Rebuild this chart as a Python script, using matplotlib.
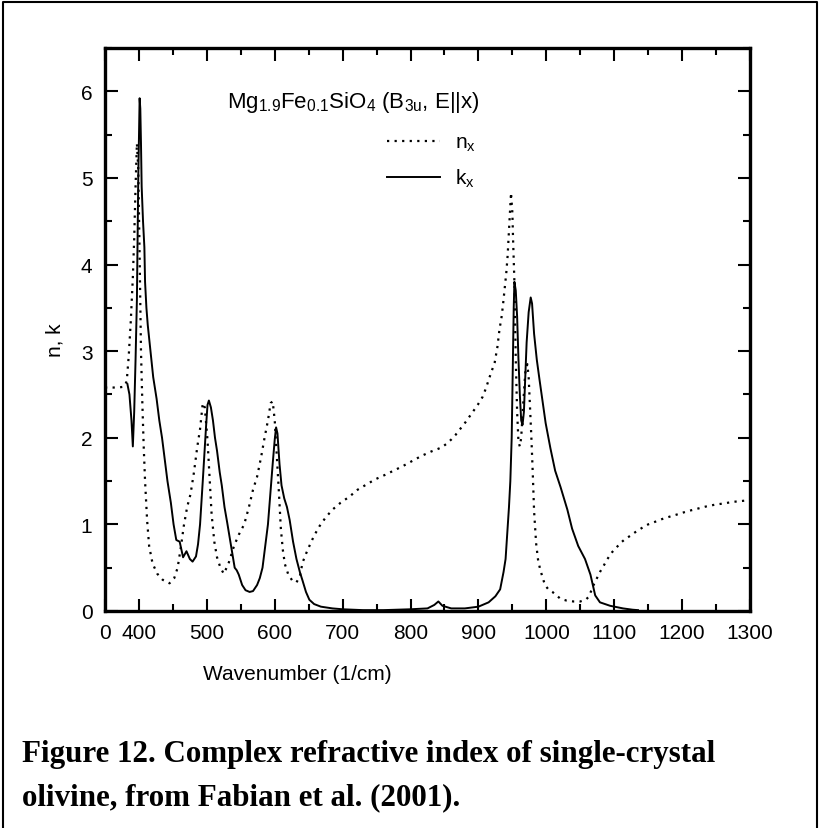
import matplotlib
matplotlib.use("Agg")
import matplotlib.pyplot as plt
from matplotlib.lines import Line2D
from matplotlib.ticker import MultipleLocator

# refractive index n_x (dotted)
n_wn = [350, 360, 370, 378, 382, 385, 388, 391, 393, 395, 397, 399, 401, 403,
        405, 407, 409, 412, 415, 420, 427, 435, 445, 452, 457, 462, 466, 471,
        476, 481, 486, 490, 494, 497, 501, 504, 507, 511, 515, 520, 525, 532,
        540, 547, 555, 562, 568, 574, 580, 585, 590, 594, 597, 600, 603, 606,
        609, 612, 615, 620, 626, 632, 637, 641, 646, 651, 658, 666, 675, 685,
        697, 710, 722, 735, 748, 762, 775, 788, 802, 816, 830, 840, 846, 853,
        860, 866, 872, 881, 891, 899, 906, 911, 916, 920, 924, 928, 931, 934,
        936, 938, 941, 943, 945, 947, 948, 950, 951, 953, 955, 957, 959, 961,
        963, 966, 969, 972, 974, 976, 978, 980, 982, 985, 988, 991, 994, 998,
        1003, 1009, 1015, 1021, 1030, 1040, 1050, 1058, 1062, 1066, 1069, 1074,
        1079, 1085, 1090, 1097, 1104, 1110, 1116, 1124, 1131, 1137, 1143, 1150,
        1157, 1170, 1182, 1195, 1207, 1222, 1237, 1250, 1260, 1275, 1288, 1300]
n_val = [2.58, 2.58, 2.58, 2.59, 2.65, 2.95, 3.35, 3.85, 4.3, 4.9, 5.4, 5.1,
         4.1, 3.0, 2.4, 1.9, 1.5, 1.05, 0.75, 0.55, 0.43, 0.36, 0.32, 0.38,
         0.5, 0.75, 0.98, 1.2, 1.35, 1.6, 1.9, 2.1, 2.4, 2.35, 1.97, 1.55, 1.12,
         0.8, 0.62, 0.5, 0.43, 0.55, 0.75, 0.88, 1.0, 1.2, 1.4, 1.55, 1.78, 2.0,
         2.2, 2.4, 2.42, 2.2, 1.8, 1.39, 0.95, 0.7, 0.54, 0.42, 0.35, 0.33, 0.4,
         0.56, 0.66, 0.75, 0.87, 0.98, 1.08, 1.17, 1.25, 1.32, 1.4, 1.46, 1.52,
         1.57, 1.62, 1.67, 1.73, 1.79, 1.84, 1.87, 1.89, 1.93, 1.98, 2.03, 2.09,
         2.18, 2.29, 2.38, 2.47, 2.57, 2.69, 2.78, 2.87, 3.05, 3.25, 3.39, 3.52,
         3.67, 3.9, 4.1, 4.4, 4.7, 4.83, 4.6, 4.3, 3.8, 2.9, 2.3, 1.95, 1.9,
         2.0, 2.4, 2.75, 2.85, 2.7, 2.35, 2.0, 1.6, 1.15, 0.78, 0.58, 0.48, 0.4,
         0.3, 0.25, 0.22, 0.18, 0.14, 0.12, 0.11, 0.11, 0.13, 0.16, 0.23, 0.29,
         0.37, 0.45, 0.53, 0.6, 0.68, 0.74, 0.79, 0.83, 0.87, 0.91, 0.94, 0.97,
         1.0, 1.02, 1.06, 1.09, 1.12, 1.15, 1.18, 1.21, 1.23, 1.24, 1.26, 1.27,
         1.28]

# extinction coefficient k_x (solid)
k_wn = [383, 386, 389, 391, 393, 395, 397, 398, 399, 400, 401, 402, 403, 404,
        406, 408, 409, 411, 413, 417, 421, 426, 430, 434, 438, 442, 447, 451,
        455, 460, 465, 470, 475, 479, 484, 487, 490, 494, 497, 499, 501, 503,
        506, 509, 512, 515, 519, 522, 526, 530, 534, 537, 541, 544, 547, 552,
        557, 563, 568, 574, 578, 582, 586, 590, 594, 597, 600, 602, 604, 607,
        610, 614, 618, 622, 627, 632, 637, 641, 646, 651, 658, 668, 685, 700,
        730, 760, 800, 825, 835, 841, 847, 860, 880, 900, 915, 925, 932, 937,
        940, 943, 945, 947, 949, 950, 951, 952, 953, 955, 957, 959, 961, 963,
        965, 967, 969, 971, 974, 977, 979, 982, 986, 990, 994, 999, 1006, 1013,
        1021, 1031, 1038, 1047, 1057, 1065, 1072, 1079, 1094, 1113, 1127, 1135]
k_val = [2.62, 2.5, 2.2, 1.9, 2.3, 2.9, 3.6, 4.3, 5.0, 5.5, 5.92, 5.8, 5.4,
         4.9, 4.5, 4.2, 3.8, 3.5, 3.3, 3.0, 2.7, 2.45, 2.2, 2.0, 1.75, 1.5,
         1.25, 1.0, 0.82, 0.8, 0.62, 0.69, 0.6, 0.57, 0.63, 0.77, 1.0, 1.5, 1.9,
         2.15, 2.38, 2.43, 2.35, 2.2, 2.0, 1.85, 1.6, 1.45, 1.2, 1.02, 0.83,
         0.68, 0.5, 0.47, 0.42, 0.3, 0.24, 0.22, 0.23, 0.3, 0.38, 0.5, 0.75,
         1.0, 1.4, 1.7, 1.98, 2.12, 2.05, 1.7, 1.45, 1.3, 1.2, 1.05, 0.8, 0.6,
         0.45, 0.35, 0.22, 0.13, 0.08, 0.05, 0.03, 0.02, 0.01, 0.01, 0.02, 0.03,
         0.07, 0.11, 0.06, 0.03, 0.03, 0.05, 0.1, 0.17, 0.25, 0.45, 0.6, 0.95,
         1.2, 1.5, 2.0, 2.5, 3.0, 3.5, 3.8, 3.7, 3.4, 2.9, 2.5, 2.2, 2.15, 2.3,
         2.7, 3.1, 3.45, 3.62, 3.55, 3.2, 2.9, 2.67, 2.45, 2.17, 1.88, 1.62,
         1.43, 1.17, 0.95, 0.75, 0.6, 0.42, 0.18, 0.1, 0.06, 0.03, 0.015, 0.01]

x_ticks = [350, 400, 500, 600, 700, 800, 900, 1000, 1100, 1200, 1300]
x_ticklabels = ["0", "400", "500", "600", "700", "800", "900", "1000",
                "1100", "1200", "1300"]
y_ticks = [0, 1, 2, 3, 4, 5, 6]

title = r"Mg$_{\mathrm{1.9}}$Fe$_{\mathrm{0.1}}$SiO$_{\mathrm{4}}$ (B$_{\mathrm{3u}}$, E||x)"
caption = ["Figure 12. Complex refractive index of single-crystal",
           "olivine, from Fabian et al. (2001)."]

plt.rcParams["font.family"] = ["Liberation Sans", "DejaVu Sans"]
plt.rcParams["mathtext.fontset"] = "custom"
plt.rcParams["mathtext.rm"] = "Liberation Sans"
plt.rcParams["mathtext.it"] = "Liberation Sans:italic"

W, H = 820, 829
fig = plt.figure(figsize=(W / 100, H / 100), dpi=100)
ax = fig.add_axes([105 / W, 1 - 612 / H, 645 / W, 563 / H])

ax.plot(n_wn, n_val, color="black", lw=1.6, ls=(0, (1, 2.4)),
        label=r"n$_{\mathrm{x}}$")
ax.plot(k_wn, k_val, color="black", lw=1.4, ls="-", label=r"k$_{\mathrm{x}}$")

ax.set_xlim(350, 1300)
ax.set_ylim(0, 6.5)
ax.set_xticks(x_ticks)
ax.set_xticklabels(x_ticklabels)
ax.set_yticks(y_ticks)
ax.xaxis.set_minor_locator(MultipleLocator(50))
ax.yaxis.set_minor_locator(MultipleLocator(0.5))
ax.tick_params(which="both", direction="in", top=True, right=True,
               width=1.5, labelsize=15)
ax.tick_params(axis="x", which="major", length=9, pad=9)
ax.tick_params(axis="y", which="major", length=9, pad=9)
ax.tick_params(which="minor", length=5)
for s in ax.spines.values():
    s.set_linewidth(2.4)

ax.text((227 - 105) / 645, 0.905, title, transform=ax.transAxes, fontsize=16,
        ha="left", va="center")

ax.legend(loc="upper left", bbox_to_anchor=((387 - 105) / 645, (612 - 134) / 563),
          frameon=False, fontsize=15, handlelength=2.55, handletextpad=0.7,
          borderpad=0, borderaxespad=0, labelspacing=0.65)

fig.text(203 / W, 1 - 675 / H, "Wavenumber (1/cm)", fontsize=15,
         ha="left", va="center")
fig.text(55 / W, 1 - 340 / H, "n, k", fontsize=15, rotation=90,
         ha="center", va="center")

# caption, sized to the width it has in the reference
cap1 = fig.text(22 / W, 1 - 762 / H, caption[0], family="Liberation Serif",
                weight="bold", fontsize=20, ha="left", va="baseline")
cap2 = fig.text(22 / W, 1 - 805 / H, caption[1], family="Liberation Serif",
                weight="bold", fontsize=20, ha="left", va="baseline")
r = fig.canvas.get_renderer()
size = 20 * 696 / cap1.get_window_extent(r).width
cap1.set_fontsize(size)
cap2.set_fontsize(size)

# frame round the whole figure
fig.add_artist(Line2D([3 / W, 3 / W, 1 - 3 / W, 1 - 3 / W], [0, 1 - 3 / H, 1 - 3 / H, 0],
                      transform=fig.transFigure, color="black", lw=1.5))

fig.savefig("out.png", dpi=100)
